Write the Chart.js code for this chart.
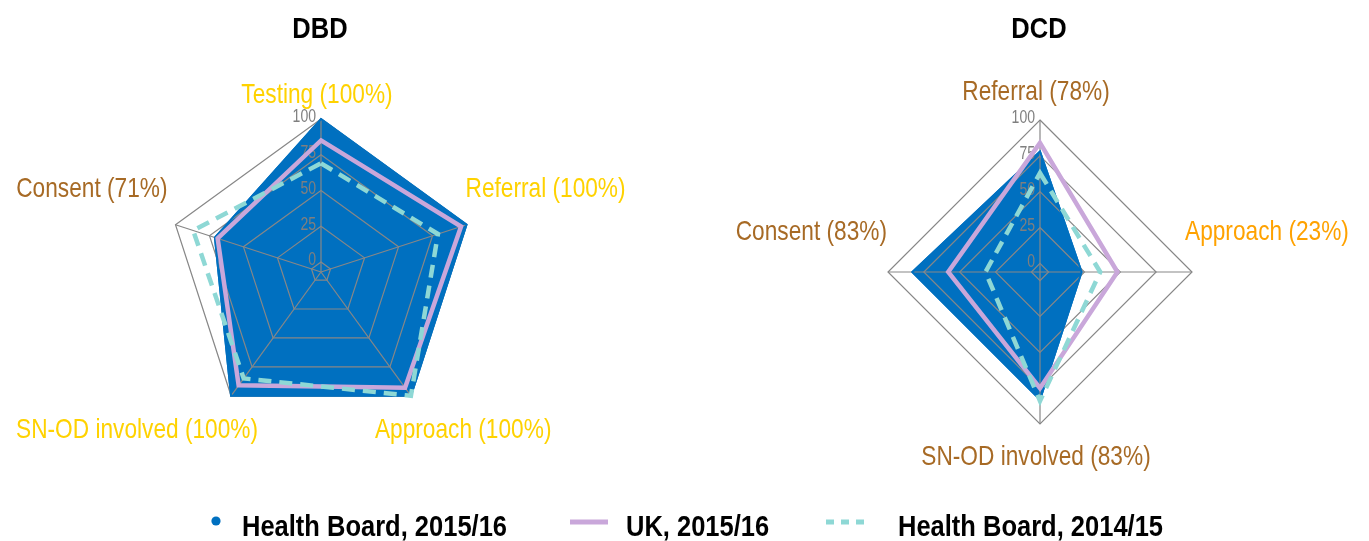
<!DOCTYPE html>
<html><head><meta charset="utf-8">
<script src="https://cdn.jsdelivr.net/npm/chart.js@4.4.1/dist/chart.umd.min.js"></script>
<style>html,body{margin:0;padding:0;background:#fff;width:1369px;height:541px;overflow:hidden}
canvas{position:absolute;left:0;top:0}</style></head>
<body>
<canvas id="c1" width="1369" height="541"></canvas>
<canvas id="c2" width="1369" height="541"></canvas>
<script>
// ---- data ----
const seriesNames = ['Health Board, 2015/16', 'UK, 2015/16', 'Health Board, 2014/15'];
const dbdCategories = ['Testing', 'Referral', 'Approach', 'SN-OD involved', 'Consent'];
const dbdHB1516 = [100, 100, 100, 100, 71];
const dbdUK1516 = [85, 96, 93, 91, 69];
const dbdHB1415 = [69, 79, 100, 85, 87];
const dcdCategories = ['Referral', 'Approach', 'SN-OD involved', 'Consent'];
const dcdHB1516 = [78, 23, 83, 83];
const dcdUK1516 = [84, 48, 75, 58];
const dcdHB1415 = [63, 36, 84, 32];
const tickValues = [0, 25, 50, 75, 100];

// ---- styles ----
const FONT = '"Liberation Sans", Arial, sans-serif';
const BLUE = '#0070C0', PURPLE = '#C9A7DA', TEAL = '#8ED8D5', GRID = '#878787';
const YEL = '#FFD200', BROWN = '#A76A25', ORANGE = '#FFA200';

function txt(ctx, s, x, cy, size, weight, sx, align, color) {
  ctx.save();
  ctx.font = weight + ' ' + size + 'px ' + FONT;
  ctx.fillStyle = color; ctx.textAlign = align; ctx.textBaseline = 'alphabetic';
  ctx.translate(x, cy + 0.358 * size); ctx.scale(sx, 1);
  ctx.fillText(s, 0, 0);
  ctx.restore();
}

function datasets(hb, uk, old) {
  return [
    { label: seriesNames[0], data: hb, backgroundColor: BLUE, borderColor: BLUE, borderWidth: 2, fill: 'start', pointRadius: 0, order: 3 },
    { label: seriesNames[1], data: uk, borderColor: PURPLE, borderWidth: 4.5, fill: false, pointRadius: 0, order: 2, borderJoinStyle: 'miter' },
    { label: seriesNames[2], data: old, borderColor: TEAL, borderWidth: 4.5, borderDash: [13, 8], fill: false, pointRadius: 0, order: 1 }
  ];
}

function makePlugin(opt) {
  return {
    id: 'custom_' + opt.title,
    afterDatasetDraw(chart, args) {
      if (args.index !== 0) return;
      const r = chart.scales.r, ctx = chart.ctx, n = chart.data.labels.length;
      ctx.save(); ctx.strokeStyle = GRID; ctx.lineWidth = 1.2;
      tickValues.forEach(v => {
        const d = r.getDistanceFromCenterForValue(v);
        ctx.beginPath();
        for (let i = 0; i < n; i++) { const p = r.getPointPosition(i, d); i ? ctx.lineTo(p.x, p.y) : ctx.moveTo(p.x, p.y); }
        ctx.closePath(); ctx.stroke();
      });
      const dmax = r.getDistanceFromCenterForValue(100);
      for (let i = 0; i < n; i++) {
        const p = r.getPointPosition(i, dmax);
        ctx.beginPath(); ctx.moveTo(r.xCenter, r.yCenter); ctx.lineTo(p.x, p.y); ctx.stroke();
      }
      ctx.restore();
      args.meta.dataset.draw(ctx, chart.chartArea);
      tickValues.forEach(v => {
        const d = r.getDistanceFromCenterForValue(v);
        txt(ctx, String(v), r.xCenter - 5, r.yCenter - d - 3, 18, 'normal', 0.78, 'right', '#7F7F7F');
      });
    },
    afterDraw(chart) {
      const r = chart.scales.r, ctx = chart.ctx;
      const hb = chart.data.datasets[0].data;
      chart.data.labels.forEach((lab, i) => {
        const p = r.getPointPosition(i, r.getDistanceFromCenterForValue(100));
        const pl = opt.place[i];
        txt(ctx, lab + ' (' + hb[i] + '%)', p.x + pl[1], p.y + pl[2], 28, 'normal', 0.81, pl[0], opt.colors[i]);
      });
      txt(ctx, opt.title, r.xCenter - 1, 27.5, 29, 'bold', 0.88, 'center', '#000');
      if (opt.legend) {
        const ds = chart.data.datasets;
        ctx.save();
        ctx.fillStyle = ds[0].backgroundColor;
        ctx.beginPath(); ctx.arc(216, 521, 4.6, 0, Math.PI * 2); ctx.fill();
        ctx.strokeStyle = ds[1].borderColor; ctx.lineWidth = 5;
        ctx.beginPath(); ctx.moveTo(570, 522); ctx.lineTo(608, 522); ctx.stroke();
        ctx.strokeStyle = ds[2].borderColor; ctx.setLineDash([8, 7]);
        ctx.beginPath(); ctx.moveTo(826, 522); ctx.lineTo(868, 522); ctx.stroke();
        ctx.restore();
        txt(ctx, ds[0].label, 242, 525, 30, 'bold', 0.85, 'left', '#000');
        txt(ctx, ds[1].label, 626, 525, 30, 'bold', 0.85, 'left', '#000');
        txt(ctx, ds[2].label, 898, 525, 30, 'bold', 0.85, 'left', '#000');
      }
    }
  };
}

function scaleOpts(min) {
  return { r: { min: min, max: 100, startAngle: 0,
    ticks: { display: false, stepSize: 25 }, grid: { display: false },
    angleLines: { display: false }, pointLabels: { display: false } } };
}

new Chart(document.getElementById('c1'), {
  type: 'radar',
  data: { labels: dbdCategories, datasets: datasets(dbdHB1516, dbdUK1516, dbdHB1415) },
  options: {
    responsive: false, animation: false, devicePixelRatio: 1,
    layout: { padding: { left: 168, top: 119, right: 1369 - 474, bottom: 541 - 425 } },
    plugins: { legend: { display: false }, tooltip: { enabled: false } },
    elements: { line: { tension: 0 } },
    scales: scaleOpts(-7)
  },
  plugins: [makePlugin({ title: 'DBD', legend: true,
    colors: [YEL, YEL, YEL, YEL, BROWN],
    place: [['center', -4, -26], ['left', -1, -38], ['left', -36, 32], ['right', 27, 32], ['right', -8, -38]] })]
});

new Chart(document.getElementById('c2'), {
  type: 'radar',
  data: { labels: dcdCategories, datasets: datasets(dcdHB1516, dcdUK1516, dcdHB1415) },
  options: {
    responsive: false, animation: false, devicePixelRatio: 1,
    layout: { padding: { left: 888, top: 120, right: 1369 - 1192, bottom: 541 - 424 } },
    plugins: { legend: { display: false }, tooltip: { enabled: false } },
    elements: { line: { tension: 0 } },
    scales: scaleOpts(-6)
  },
  plugins: [makePlugin({ title: 'DCD', legend: false,
    colors: [BROWN, ORANGE, BROWN, BROWN],
    place: [['center', -4, -30], ['left', -7, -42], ['center', -4, 31], ['right', -1, -42]] })]
});
</script>
</body></html>
